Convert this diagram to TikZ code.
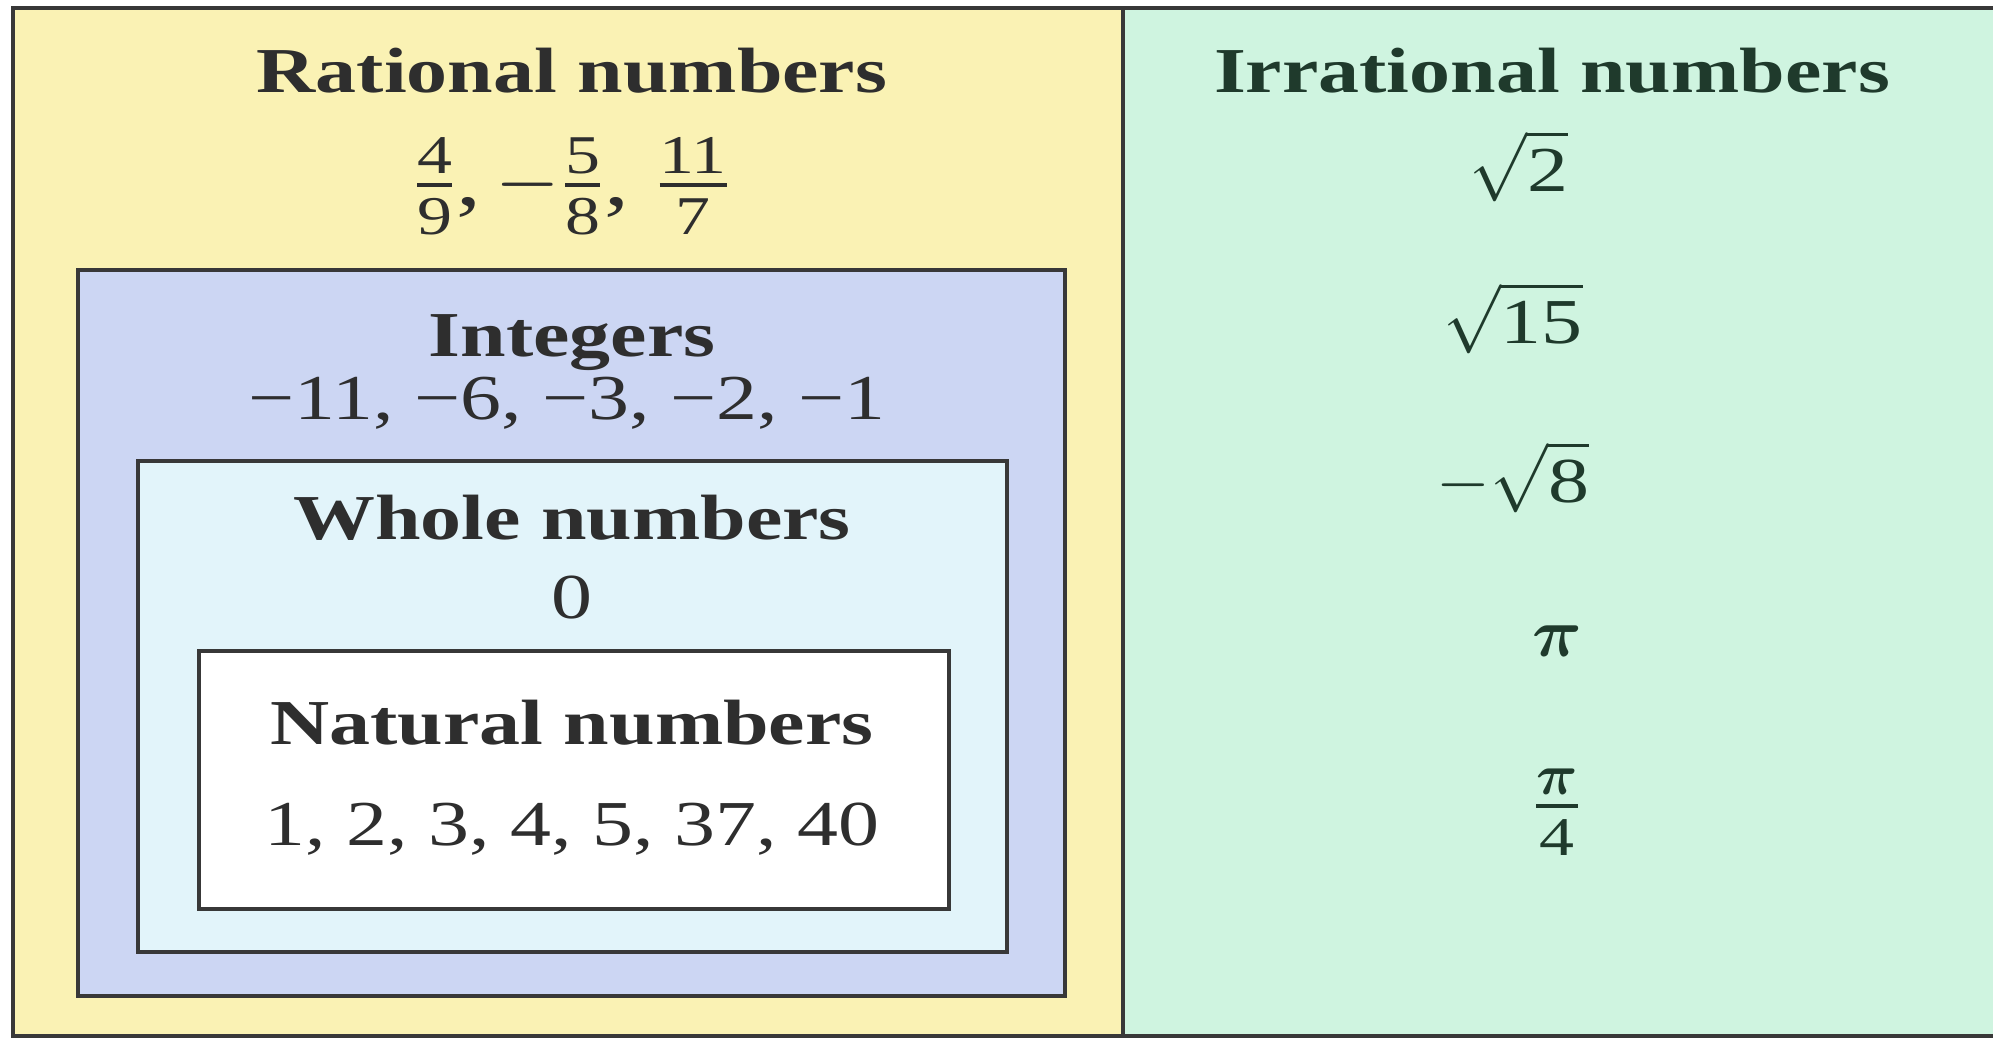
\documentclass[tikz,border=0pt]{standalone}
\usepackage{amsmath,bm}
\usepackage{fontspec}
\setmainfont{Liberation Serif}[FakeStretch=1.28]
\usepackage{tikz}
\usetikzlibrary{positioning}
\definecolor{rationalyellow}{HTML}{FAF2B4}
\definecolor{irrationalgreen}{HTML}{CFF4E0}
\definecolor{integerblue}{HTML}{CCD6F3}
\definecolor{wholecyan}{HTML}{E2F4FA}
\definecolor{frameink}{HTML}{383838}
\definecolor{textink}{HTML}{2E2E2E}
\definecolor{greenink}{HTML}{1F3A2C}

\begin{document}
\begin{tikzpicture}[x=0.25pt,y=-0.25pt,
  setbox/.style={draw=frameink,line width=1pt},
  head/.style={font=\fontsize{16}{19}\selectfont\bfseries,text=textink,inner sep=0pt,anchor=base},
  members/.style={font=\fontsize{16}{19}\selectfont,text=textink,inner sep=0pt,anchor=base},
  mathitem/.style={font=\fontsize{16}{19}\selectfont,text=greenink,inner sep=0pt}
]
\useasboundingbox (0,0) rectangle (1993,1038);
% the two halves
\fill[rationalyellow] (13,8) rectangle (1123,1036);
\fill[irrationalgreen] (1123,8) rectangle (1993,1036);
\draw[setbox] (1993,8) -- (13,8) -- (13,1036) -- (1993,1036);
\draw[setbox] (1123,8) -- (1123,1036);
% nested sets
\draw[setbox,fill=integerblue] (78,270) rectangle (1065,996);
\draw[setbox,fill=wholecyan] (138,461) rectangle (1007,952);
\draw[setbox,fill=white] (199,651) rectangle (949,909);

\node[head] (rathead) at (572,93) {Rational numbers};
\node[mathitem,text=textink,font=\fontsize{19.5}{22}\selectfont] (ratlist) at (572,186)
  {$\frac{\text{4}}{\text{9}}\text{,}\,{-}\frac{\text{5}}{\text{8}}\text{, }\frac{\text{11}}{\text{7}}$};
\node[head] (inthead) at (572,356) {Integers};
\node[members] (intlist) at (567,419) {−11, −6, −3, −2, −1};
\node[head] (wholehead) at (572,539) {Whole numbers};
\node[members] (wholelist) at (572,618) {0};
\node[head] (nathead) at (572,744) {Natural numbers};
\node[members] (natlist) at (572,845) {1, 2, 3, 4, 5, 37, 40};

\node[head,text=greenink] (irrhead) at (1552,93) {Irrational numbers};
\node[mathitem] (sqrttwo) at (1519,166) {$\sqrt{\text{2}}$};
\node[mathitem] (sqrtfifteen) at (1513,318) {$\sqrt{\text{15}}$};
\node[mathitem] (sqrteight) at (1513,477) {$-\sqrt{\text{8}}$};
\node[mathitem] (pi) at (1557,641) {$\bm{\pi}$};
\node[mathitem,font=\fontsize{19.5}{22}\selectfont] (piquarter) at (1557,812) {$\frac{\bm{\pi}}{\text{4}}$};
\end{tikzpicture}
\end{document}
